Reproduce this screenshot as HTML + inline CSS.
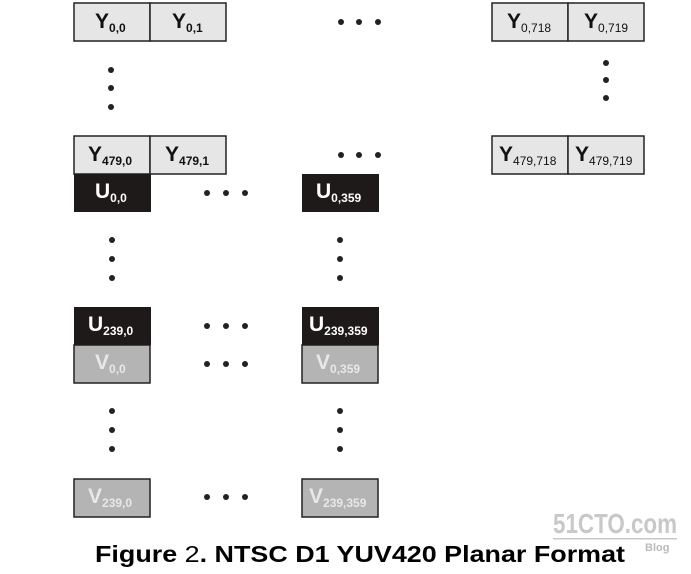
<!DOCTYPE html>
<html><head><style>
html,body{margin:0;padding:0;background:#fff;}
svg{display:block;}
text{font-family:"Liberation Sans",Arial,sans-serif;font-weight:bold;}
</style></head><body>
<svg width="691" height="574" viewBox="0 0 691 574" xmlns="http://www.w3.org/2000/svg">
<g stroke="#222" stroke-width="1.5">
<rect x="74" y="3" width="76" height="38" fill="#e6e6e6"/>
<rect x="150" y="3" width="76" height="38" fill="#e6e6e6"/>
<rect x="492" y="3" width="76" height="38" fill="#e6e6e6"/>
<rect x="568" y="3" width="76" height="38" fill="#e6e6e6"/>
<rect x="74" y="136" width="76" height="38" fill="#e6e6e6"/>
<rect x="150" y="136" width="76" height="38" fill="#e6e6e6"/>
<rect x="492" y="136" width="76" height="38" fill="#e6e6e6"/>
<rect x="568" y="136" width="76" height="38" fill="#e6e6e6"/>
<rect x="74" y="345" width="76" height="38" fill="#b4b4b4"/>
<rect x="302" y="345" width="76" height="38" fill="#b4b4b4"/>
<rect x="74" y="479" width="76" height="38" fill="#b4b4b4"/>
<rect x="302" y="479" width="76" height="38" fill="#b4b4b4"/>
</g>
<g fill="#1e1a1a">
<rect x="74" y="174" width="77" height="38"/>
<rect x="302" y="174" width="77" height="38"/>
<rect x="74" y="307" width="77" height="38"/>
<rect x="302" y="307" width="77" height="38"/>
</g>
<g fill="#222">
<circle cx="341" cy="22" r="3"/><circle cx="359" cy="22" r="3"/><circle cx="378" cy="22" r="3"/>
<circle cx="341" cy="155" r="3"/><circle cx="359" cy="155" r="3"/><circle cx="378" cy="155" r="3"/>
<circle cx="111" cy="70" r="3"/><circle cx="111" cy="88" r="3"/><circle cx="111" cy="107" r="3"/>
<circle cx="606" cy="63" r="3"/><circle cx="606" cy="80" r="3"/><circle cx="606" cy="98" r="3"/>
<circle cx="207" cy="193" r="3"/><circle cx="226" cy="193" r="3"/><circle cx="245" cy="193" r="3"/>
<circle cx="112" cy="240" r="3"/><circle cx="112" cy="259" r="3"/><circle cx="112" cy="278" r="3"/>
<circle cx="340" cy="240" r="3"/><circle cx="340" cy="259" r="3"/><circle cx="340" cy="278" r="3"/>
<circle cx="207" cy="326" r="3"/><circle cx="226" cy="326" r="3"/><circle cx="245" cy="326" r="3"/>
<circle cx="207" cy="364" r="3"/><circle cx="226" cy="364" r="3"/><circle cx="245" cy="364" r="3"/>
<circle cx="112" cy="411" r="3"/><circle cx="112" cy="430" r="3"/><circle cx="112" cy="449" r="3"/>
<circle cx="340" cy="411" r="3"/><circle cx="340" cy="430" r="3"/><circle cx="340" cy="449" r="3"/>
<circle cx="207" cy="497" r="3"/><circle cx="226" cy="497" r="3"/><circle cx="245" cy="497" r="3"/>
</g>
<g font-size="21" fill="#111">
<text x="95" y="28">Y<tspan font-size="12" dy="4">0,0</tspan></text>
<text x="172" y="28">Y<tspan font-size="12" dy="4">0,1</tspan></text>
<text x="507" y="28">Y<tspan font-size="12" dy="4" font-weight="normal">0,718</tspan></text>
<text x="584" y="28">Y<tspan font-size="12" dy="4" font-weight="normal">0,719</tspan></text>
<text x="88" y="161">Y<tspan font-size="12" dy="4">479,0</tspan></text>
<text x="165" y="161">Y<tspan font-size="12" dy="4">479,1</tspan></text>
<text x="499" y="161">Y<tspan font-size="12" dy="4" font-weight="normal">479,718</tspan></text>
<text x="575" y="161">Y<tspan font-size="12" dy="4" font-weight="normal">479,719</tspan></text>
</g>
<g font-size="21" fill="#fff">
<text x="95" y="198">U<tspan font-size="12" dy="4">0,0</tspan></text>
<text x="316" y="198">U<tspan font-size="12" dy="4">0,359</tspan></text>
<text x="88" y="331">U<tspan font-size="12" dy="4">239,0</tspan></text>
<text x="309" y="331">U<tspan font-size="12" dy="4">239,359</tspan></text>
</g>
<g font-size="21" fill="#e8e8e8">
<text x="95" y="369">V<tspan font-size="12" dy="4">0,0</tspan></text>
<text x="316" y="369">V<tspan font-size="12" dy="4">0,359</tspan></text>
<text x="88" y="503">V<tspan font-size="12" dy="4">239,0</tspan></text>
<text x="309" y="503">V<tspan font-size="12" dy="4">239,359</tspan></text>
</g>
<text x="553" y="533" font-size="28" fill="#c8c8c8" textLength="124" lengthAdjust="spacingAndGlyphs">51CTO.com</text>
<rect x="553" y="538" width="124" height="1.5" fill="#c8c8c8"/>
<text x="645" y="551" font-size="11" fill="#bbb">Blog</text>
<text x="95" y="562" font-size="23" fill="#000" textLength="530" lengthAdjust="spacingAndGlyphs">Figure <tspan font-weight="normal">2</tspan>. NTSC D1 YUV420 Planar Format</text>
</svg>
</body></html>
